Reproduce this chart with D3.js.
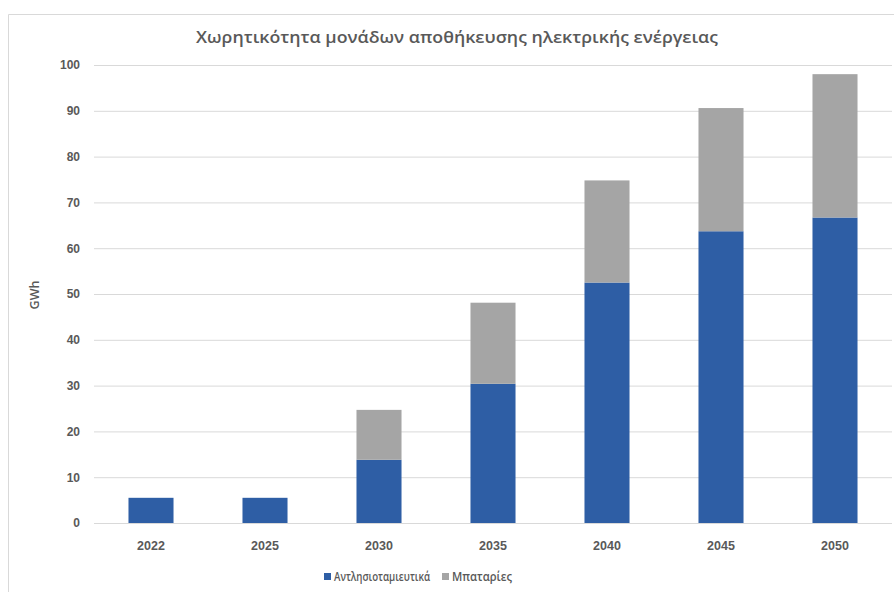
<!DOCTYPE html>
<html>
<head>
<meta charset="utf-8">
<script src="https://cdn.jsdelivr.net/npm/d3@7"></script>
<style>
  html, body { margin: 0; padding: 0; background: #fff; }
  svg { display: block; font-family: "Open Sans", "Noto Sans", sans-serif; }
</style>
</head>
<body>
<svg id="chart" width="894" height="592"></svg>
<script>
const years = ["2022", "2025", "2030", "2035", "2040", "2045", "2050"];
const pumped = [5.5, 5.5, 13.8, 30.4, 52.5, 63.7, 66.7];
const batteries = [0, 0, 10.9, 17.7, 22.3, 26.9, 31.3];
const seriesNames = ["Αντλησιοταμιευτικά", "Μπαταρίες"];
const yTicks = [0, 10, 20, 30, 40, 50, 60, 70, 80, 90, 100];
const title = "Χωρητικότητα μονάδων αποθήκευσης ηλεκτρικής ενέργειας";
const yLabel = "GWh";

const colors = ["#2e5ea5", "#a5a5a5"];
const textColor = "#595959";

const svg = d3.select("#chart");

// frame
svg.append("path")
  .attr("d", "M8.5,592 L8.5,14.5 L894,14.5")
  .attr("fill", "none").attr("stroke", "#d9d9d9").attr("stroke-width", 1);

const x = d3.scaleBand().domain(years).range([94, 892])
  .paddingInner(0.605).paddingOuter(0.3025);
const y = d3.scaleLinear().domain([0, 100]).range([523, 65]);

// gridlines
const yAxis = d3.axisLeft(y).tickValues(yTicks).tickSize(-(892 - 94)).tickPadding(14);
const gy = svg.append("g").attr("transform", "translate(94,0)").call(yAxis);
gy.select(".domain").remove();
gy.selectAll(".tick line").attr("stroke", "#d9d9d9");
gy.selectAll(".tick text").attr("fill", textColor).attr("font-size", 12)
  .attr("font-weight", 600);

// bars
const table = years.map((yr, i) => ({ year: yr, p: pumped[i], b: batteries[i] }));
const stack = d3.stack().keys(["p", "b"])(table);
svg.append("g").selectAll("g").data(stack).join("g")
  .attr("fill", (d, i) => colors[i])
  .selectAll("rect").data(d => d).join("rect")
  .attr("x", d => x(d.data.year))
  .attr("width", x.bandwidth())
  .attr("y", d => y(d[1]))
  .attr("height", d => y(d[0]) - y(d[1]));

// x axis labels
const xAxis = d3.axisBottom(x).tickSize(0).tickPadding(18);
const gx = svg.append("g").attr("transform", "translate(0,523)").call(xAxis);
gx.select(".domain").remove();
gx.selectAll(".tick text").attr("fill", textColor).attr("font-size", 12.5)
  .attr("font-weight", 600);

// title
svg.append("text").attr("x", 457).attr("y", 43).attr("text-anchor", "middle")
  .attr("fill", textColor).attr("font-size", 16).attr("font-weight", 600)
  .attr("textLength", 522).attr("lengthAdjust", "spacingAndGlyphs")
  .text(title);

// y label
svg.append("text").attr("transform", "translate(39,295) rotate(-90)")
  .attr("text-anchor", "middle").attr("fill", textColor)
  .attr("font-size", 12.5).attr("font-weight", 600).text(yLabel);

// legend
const leg = svg.append("g");
const items = [
  { name: seriesNames[0], color: colors[0], x: 324, len: 96 },
  { name: seriesNames[1], color: colors[1], x: 442, len: 60 }
];
items.forEach(it => {
  leg.append("rect").attr("x", it.x).attr("y", 573).attr("width", 7).attr("height", 7)
    .attr("fill", it.color);
  leg.append("text").attr("x", it.x + 10).attr("y", 581)
    .attr("fill", textColor).attr("font-size", 12.5).attr("font-weight", 600)
    .attr("textLength", it.len).attr("lengthAdjust", "spacingAndGlyphs")
    .text(it.name);
});
</script>
</body>
</html>
